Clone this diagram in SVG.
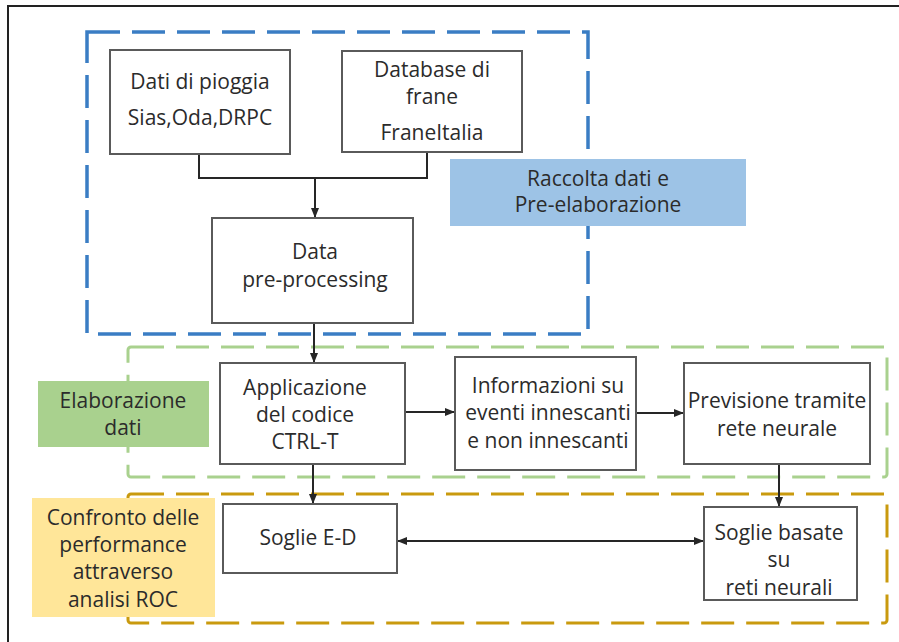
<svg xmlns="http://www.w3.org/2000/svg" width="899" height="642" viewBox="0 0 899 642">
<defs>
<style>
text{font-family:"Open Sans","Noto Sans","Liberation Sans",sans-serif;font-size:21px;fill:#2b2b2b;text-anchor:middle}
.box{fill:#fff;stroke:#5a5a5a;stroke-width:2}
.conn{fill:none;stroke:#262626;stroke-width:2}
</style>
<marker id="ah" viewBox="0 0 10 10" refX="9" refY="5" markerWidth="5" markerHeight="5" orient="auto-start-reverse"><path d="M0,1 L10,5 L0,9 z" fill="#262626"/></marker>
</defs>
<rect x="0" y="0" width="899" height="642" fill="#fff"/>
<rect x="8" y="6" width="1000" height="1000" fill="none" stroke="#222" stroke-width="2"/>

<g id="group-blue"><rect x="87" y="32" width="501" height="302" fill="none" stroke="#3A7DC4" stroke-width="3.5" stroke-dasharray="33 12"/></g>
<g id="group-green"><rect x="128" y="347" width="759" height="130" rx="3" fill="none" stroke="#A9D18E" stroke-width="3" stroke-dasharray="33 12"/></g>
<g id="group-orange"><rect x="128" y="494" width="759" height="129" rx="3" fill="none" stroke="#C99A0E" stroke-width="3" stroke-dasharray="33 12"/></g>

<g id="connectors">
<path class="conn" d="M199,154 V178 H427 V152"/>
<path class="conn" d="M315,178 V217" marker-end="url(#ah)"/>
<path class="conn" d="M314,323 V362" marker-end="url(#ah)"/>
<path class="conn" d="M405,412 H454" marker-end="url(#ah)"/>
<path class="conn" d="M636,413 H683" marker-end="url(#ah)"/>
<path class="conn" d="M313,464 V503" marker-end="url(#ah)"/>
<path class="conn" d="M779,464 V506" marker-end="url(#ah)"/>
<path class="conn" d="M398,541 H703" marker-start="url(#ah)" marker-end="url(#ah)"/>
</g>

<g id="label-raccolta"><rect x="450" y="159" width="296" height="67" fill="#9DC3E6"/>
<text x="598" y="186">Raccolta dati e</text><text x="598" y="212">Pre-elaborazione</text></g>
<g id="label-elaborazione"><rect x="38" y="381" width="171" height="66" fill="#A9D18E"/>
<text x="123" y="408">Elaborazione</text><text x="123" y="435">dati</text></g>
<g id="label-confronto"><rect x="32" y="498" width="183" height="119" fill="#FFE699"/>
<text x="123" y="525">Confronto delle</text><text x="123" y="552">performance</text><text x="123" y="579">attraverso</text><text x="123" y="607">analisi ROC</text></g>

<g id="node-dati"><rect class="box" x="110" y="50" width="180" height="104"/>
<text x="200" y="89">Dati di pioggia</text><text x="200" y="125">Sias,Oda,DRPC</text></g>
<g id="node-database"><rect class="box" x="342" y="51" width="180" height="101"/>
<text x="432" y="77">Database di</text><text x="432" y="104">frane</text><text x="432" y="140">FraneItalia</text></g>
<g id="node-preproc"><rect class="box" x="212" y="218" width="201" height="105"/>
<text x="315" y="259">Data</text><text x="315" y="287">pre-processing</text></g>
<g id="node-ctrlt"><rect class="box" x="220" y="363" width="185" height="101"/>
<text x="305" y="395">Applicazione</text><text x="305" y="422">del codice</text><text x="305" y="449">CTRL-T</text></g>
<g id="node-info"><rect class="box" x="455" y="357" width="181" height="113"/>
<text x="548" y="393">Informazioni su</text><text x="548" y="420">eventi innescanti</text><text x="548" y="448">e non innescanti</text></g>
<g id="node-previsione"><rect class="box" x="684" y="363" width="186" height="101"/>
<text x="777" y="408">Previsione tramite</text><text x="777" y="436">rete neurale</text></g>
<g id="node-soglie-ed"><rect class="box" x="223" y="504" width="174" height="69"/>
<text x="308" y="545">Soglie E-D</text></g>
<g id="node-soglie-nn"><rect class="box" x="704" y="507" width="153" height="93"/>
<text x="779" y="540">Soglie basate</text><text x="779" y="567">su</text><text x="779" y="595">reti neurali</text></g>
</svg>
